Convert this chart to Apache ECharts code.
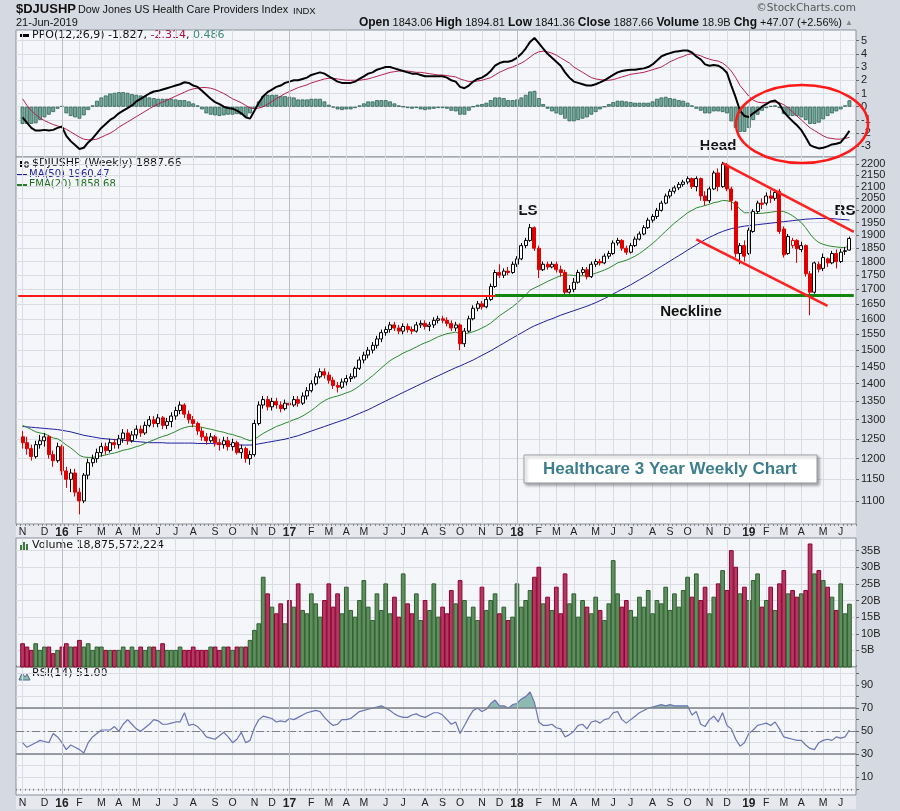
<!DOCTYPE html>
<html><head><meta charset="utf-8">
<script src="https://cdn.jsdelivr.net/npm/echarts@6/dist/echarts.min.js"></script>
<style>html,body{margin:0;padding:0;background:#d5d9e2;}#c{width:900px;height:811px;}</style>
</head><body><div id="c"></div>
<script>
// ---------- x axis: month labels and number of weekly bars per month ----------
const monthLabels = ['N','D','16','F','M','A','M','J','J','A','S','O','N','D','17','F','M','A','M','J','J','A','S','O','N','D','18','F','M','A','M','J','J','A','S','O','N','D','19','F','M','A','M','J'];
const monthWeeks  = [5,4,4,5,4,4,5,4,4,5,4,5,4,4,5,4,4,4,5,4,5,4,4,5,4,4,5,4,4,5,4,4,5,4,4,5,4,5,4,4,4,5,4,3];

// ---------- weekly OHLC ----------
const open = [1255,1240,1225,1205,1235,1245,1255,1210,1195,1230,1170,1150,1165,1120,1100,1160,1190,1200,1215,1230,1220,1240,1235,1250,1265,1245,1260,1275,1265,1285,1300,1290,1305,1285,1295,1310,1325,1340,1315,1300,1290,1270,1255,1245,1255,1240,1235,1245,1230,1240,1215,1225,1200,1210,1290,1340,1355,1335,1350,1340,1330,1345,1340,1355,1345,1365,1380,1400,1420,1435,1425,1410,1395,1390,1405,1415,1420,1445,1470,1485,1500,1515,1535,1555,1565,1580,1570,1560,1575,1565,1560,1580,1585,1575,1580,1595,1600,1595,1585,1570,1580,1520,1560,1600,1635,1650,1640,1665,1710,1760,1750,1765,1760,1790,1810,1860,1880,1930,1850,1770,1790,1780,1790,1770,1760,1690,1700,1725,1760,1770,1745,1790,1800,1795,1820,1830,1870,1880,1850,1835,1860,1885,1905,1930,1960,1975,2000,2030,2060,2080,2095,2110,2120,2135,2100,2135,2060,2040,2090,2160,2100,2195,2090,2035,1830,1860,1830,1915,1995,2030,2030,2060,2050,2080,1925,1830,1860,1880,1845,1860,1755,1690,1790,1775,1810,1795,1830,1800,1838,1843.06];
const high = [1270,1255,1235,1245,1260,1265,1260,1220,1240,1235,1180,1175,1175,1130,1165,1200,1210,1225,1240,1240,1250,1250,1260,1275,1275,1270,1285,1285,1295,1310,1310,1315,1310,1305,1320,1335,1350,1345,1325,1310,1295,1280,1265,1265,1260,1250,1255,1255,1250,1245,1235,1230,1220,1300,1350,1365,1365,1360,1360,1350,1355,1360,1365,1365,1375,1390,1410,1430,1445,1445,1435,1420,1405,1415,1425,1430,1450,1480,1495,1510,1525,1545,1565,1575,1590,1590,1580,1585,1585,1575,1590,1595,1595,1590,1605,1610,1610,1605,1595,1590,1585,1570,1610,1645,1660,1660,1675,1720,1770,1790,1775,1780,1800,1820,1870,1890,1945,1935,1860,1800,1800,1800,1800,1785,1770,1715,1740,1770,1780,1780,1800,1810,1810,1830,1840,1880,1890,1885,1860,1870,1895,1915,1940,1970,1985,2010,2040,2070,2090,2105,2120,2130,2145,2140,2145,2140,2080,2100,2170,2180,2210,2205,2100,2040,1870,1880,1930,2005,2040,2050,2075,2085,2090,2090,1935,1905,1890,1885,1875,1865,1765,1800,1800,1830,1815,1840,1845,1848,1855,1894.81];
const low = [1225,1210,1195,1200,1225,1230,1200,1180,1190,1160,1130,1120,1110,1070,1095,1150,1180,1190,1205,1210,1215,1225,1225,1240,1235,1240,1250,1255,1260,1280,1280,1280,1275,1275,1280,1300,1315,1305,1290,1280,1260,1245,1235,1240,1230,1220,1225,1220,1220,1210,1200,1190,1185,1205,1285,1330,1325,1325,1330,1320,1325,1330,1335,1335,1340,1355,1375,1395,1415,1415,1400,1385,1375,1385,1395,1405,1415,1440,1460,1475,1490,1505,1525,1545,1555,1560,1550,1550,1555,1550,1555,1570,1565,1560,1570,1585,1585,1575,1560,1560,1500,1510,1555,1595,1625,1630,1635,1660,1705,1740,1740,1750,1755,1780,1805,1850,1875,1840,1740,1765,1770,1775,1760,1745,1680,1685,1690,1720,1750,1735,1740,1780,1785,1790,1810,1825,1860,1840,1825,1830,1855,1880,1900,1925,1950,1965,1995,2025,2050,2070,2085,2100,2110,2090,2080,2040,2020,2030,2085,2080,2095,2080,2000,1815,1790,1800,1825,1910,1985,2005,2020,2030,2040,1905,1815,1825,1850,1795,1835,1745,1612,1685,1760,1765,1780,1790,1775,1795,1825,1841.36];
const close = [1240,1225,1205,1235,1245,1255,1210,1195,1230,1170,1150,1165,1120,1100,1160,1190,1200,1215,1230,1220,1240,1235,1250,1265,1245,1260,1275,1265,1285,1300,1290,1305,1285,1295,1310,1325,1340,1315,1300,1290,1270,1255,1245,1255,1240,1235,1245,1230,1240,1215,1225,1200,1210,1290,1340,1355,1335,1350,1340,1330,1345,1340,1355,1345,1365,1380,1400,1420,1435,1425,1410,1395,1390,1405,1415,1420,1445,1470,1485,1500,1515,1535,1555,1565,1580,1570,1560,1575,1565,1560,1580,1585,1575,1580,1595,1600,1595,1585,1570,1580,1520,1560,1600,1635,1650,1640,1665,1710,1760,1750,1765,1760,1790,1810,1860,1880,1930,1850,1770,1790,1780,1790,1770,1760,1690,1700,1725,1760,1770,1745,1790,1800,1795,1820,1830,1870,1880,1850,1835,1860,1885,1905,1930,1960,1975,2000,2030,2060,2080,2095,2110,2120,2135,2100,2135,2060,2040,2090,2160,2100,2200,2090,2040,1830,1860,1820,1920,1995,2030,2025,2060,2050,2075,1915,1825,1895,1880,1848,1860,1755,1690,1795,1772,1815,1795,1830,1800,1835,1840.59,1887.66];

// ---------- overlays ----------
const ma50 = [1282,1281,1280,1279,1278,1277,1276,1275,1274,1272,1270,1268,1265,1262,1259,1257,1255,1253,1251,1250,1249,1248,1247,1246,1245,1244,1243,1242,1241,1240,1240,1240,1240,1239,1239,1239,1239,1239,1239,1239,1238,1238,1238,1238,1237,1237,1236,1236,1235,1235,1234,1234,1234,1235,1237,1239,1241,1243,1245,1247,1249,1252,1255,1258,1262,1266,1270,1274,1278,1282,1286,1290,1294,1298,1302,1307,1312,1317,1322,1327,1333,1339,1345,1351,1357,1363,1369,1375,1381,1387,1393,1399,1405,1411,1417,1423,1429,1435,1441,1447,1452,1458,1464,1470,1477,1484,1491,1498,1506,1514,1522,1530,1538,1546,1554,1562,1570,1577,1583,1589,1595,1600,1606,1612,1617,1622,1627,1632,1637,1642,1648,1654,1661,1668,1676,1684,1692,1700,1708,1716,1725,1734,1743,1752,1762,1772,1782,1792,1802,1812,1822,1832,1843,1853,1863,1873,1883,1892,1900,1908,1915,1921,1926,1930,1933,1936,1938,1940,1942,1944,1946,1948,1950,1952,1954,1956,1958,1960,1962,1964,1965,1966,1967,1967,1967,1966,1965,1963,1962,1960.47];
const ema20 = [1285,1280,1274,1268,1265,1263,1258,1252,1250,1243,1234,1227,1218,1208,1204,1203,1203,1205,1207,1209,1212,1214,1217,1221,1223,1226,1230,1233,1238,1243,1247,1252,1256,1259,1264,1269,1275,1279,1282,1283,1282,1280,1277,1275,1272,1269,1267,1263,1261,1257,1254,1249,1245,1249,1256,1264,1270,1276,1282,1286,1291,1295,1300,1304,1310,1317,1325,1334,1344,1352,1358,1362,1365,1369,1374,1378,1385,1394,1403,1413,1423,1434,1446,1457,1468,1476,1483,1491,1497,1503,1510,1517,1523,1528,1535,1542,1547,1552,1554,1557,1550,1551,1554,1558,1563,1570,1577,1586,1598,1610,1620,1630,1640,1652,1666,1680,1697,1705,1712,1720,1728,1735,1742,1748,1750,1751,1749,1748,1748,1748,1752,1757,1763,1769,1776,1785,1795,1800,1805,1812,1820,1830,1842,1855,1868,1883,1900,1916,1932,1948,1962,1976,1990,2000,2010,2015,2020,2025,2032,2035,2041,2040,2035,2025,2005,1990,1990,1988,1987,1988,1990,1992,1995,1997,1995,1988,1978,1965,1950,1930,1905,1885,1872,1865,1860,1857,1855,1853,1853,1858.68];

// ---------- volume (billions) ----------
const volume = [7,6,5,7,5,6,6,4,5,6,7,6,6,8,6,7,5,6,6,5,5,5,5,6,5,6,5,6,5,6,6,5,7,5,5,5,6,5,5,6,5,5,5,6,6,5,6,6,5,6,6,6,8,11,13,27,22,18,16,19,13,20,18,25,17,16,22,19,15,20,25,18,22,16,24,17,15,20,26,18,14,22,17,25,16,21,15,28,19,16,22,14,20,17,25,15,18,16,23,19,26,20,15,18,14,24,17,20,22,16,18,14,15,25,18,20,23,27,30,19,21,17,24,16,28,19,22,15,20,18,16,21,17,14,19,32,22,18,20,17,15,21,18,23,16,20,19,24,17,22,18,23,27,21,28,20,24,16,21,25,29,23,35,30,22,24,20,26,28,18,20,24,17,25,29,22,23,21,22,23,37,28,29,26,24,21,17,25,16,18.88];

// ---------- PPO(12,26,9) ----------
const ppo = [-0.8,-1.2,-1.6,-1.8,-1.8,-1.75,-1.8,-1.75,-1.6,-1.5,-2.2,-2.6,-2.9,-3.2,-3.1,-2.7,-2.4,-2.0,-1.6,-1.3,-1.0,-0.8,-0.5,-0.3,-0.1,0.1,0.4,0.6,0.8,1.0,1.15,1.2,1.3,1.4,1.5,1.6,1.7,1.85,1.8,1.6,1.5,1.2,0.9,0.6,0.35,0.2,0.0,-0.1,-0.15,-0.3,-0.5,-0.8,-0.9,-0.3,0.3,0.8,1.1,1.3,1.5,1.6,1.8,1.9,2.0,2.0,2.1,2.2,2.4,2.5,2.6,2.5,2.3,2.1,1.9,1.8,1.8,1.8,1.9,2.1,2.3,2.5,2.6,2.8,2.9,3.0,3.0,2.9,2.8,2.7,2.6,2.5,2.5,2.4,2.3,2.3,2.3,2.3,2.3,2.2,2.0,1.9,1.5,1.4,1.6,1.9,2.1,2.2,2.4,2.7,3.1,3.3,3.4,3.4,3.5,3.7,4.0,4.4,4.9,5.2,4.8,4.4,4.0,3.7,3.4,3.1,2.6,2.2,1.9,1.8,1.7,1.6,1.6,1.7,1.84,2.0,2.2,2.4,2.6,2.7,2.75,2.8,2.8,2.85,2.9,3.0,3.2,3.5,3.8,3.95,4.05,4.15,4.2,4.25,4.25,4.1,3.8,3.58,3.2,3.1,3.15,3.1,2.9,2.57,1.6,0.7,-0.3,-0.7,-0.77,-0.5,-0.27,0.0,0.2,0.4,0.47,0.2,-0.4,-0.77,-1.1,-1.4,-1.77,-2.3,-2.9,-3.05,-3.15,-3.1,-3.0,-2.85,-2.8,-2.7,-2.3,-1.827];
const ppoSignal = [0.6,0.1,-0.3,-0.6,-0.85,-1.05,-1.2,-1.35,-1.45,-1.55,-1.7,-1.9,-2.1,-2.3,-2.45,-2.5,-2.5,-2.45,-2.3,-2.15,-2.0,-1.8,-1.55,-1.35,-1.15,-0.95,-0.75,-0.55,-0.35,-0.15,0.05,0.2,0.35,0.5,0.65,0.8,0.95,1.1,1.25,1.35,1.4,1.45,1.45,1.4,1.3,1.15,1.0,0.8,0.6,0.45,0.3,0.1,-0.1,-0.15,-0.1,0.0,0.2,0.4,0.6,0.8,1.0,1.15,1.3,1.45,1.55,1.65,1.8,1.9,2.0,2.1,2.15,2.15,2.1,2.05,2.0,2.0,2.0,2.0,2.05,2.1,2.2,2.3,2.4,2.5,2.6,2.65,2.7,2.7,2.7,2.65,2.6,2.6,2.55,2.5,2.45,2.4,2.4,2.35,2.3,2.25,2.1,2.0,1.9,1.9,1.95,2.0,2.1,2.2,2.4,2.6,2.75,2.9,3.0,3.15,3.3,3.5,3.75,4.0,4.15,4.2,4.15,4.05,3.9,3.7,3.5,3.3,3.0,2.8,2.6,2.4,2.2,2.1,2.05,2.0,2.0,2.05,2.15,2.25,2.35,2.45,2.5,2.55,2.6,2.7,2.8,2.9,3.0,3.2,3.4,3.55,3.7,3.8,3.95,4.0,3.95,3.85,3.7,3.6,3.5,3.45,3.3,3.05,2.7,2.2,1.6,1.2,0.8,0.5,0.35,0.3,0.3,0.35,0.35,0.3,0.15,-0.1,-0.4,-0.7,-1.0,-1.3,-1.6,-1.8,-2.0,-2.2,-2.35,-2.4,-2.45,-2.45,-2.4,-2.314];
const ppoHist = [-1.3,-1.3,-1.3,-1.25,-1.0,-0.8,-0.6,-0.4,-0.15,0.05,-0.5,-0.7,-0.8,-0.9,-0.65,-0.25,0.1,0.45,0.7,0.85,1.0,1.05,1.1,1.1,1.05,0.95,0.9,0.85,0.8,0.7,0.65,0.6,0.6,0.6,0.6,0.55,0.5,0.5,0.4,0.25,0.1,-0.2,-0.5,-0.6,-0.65,-0.7,-0.65,-0.6,-0.6,-0.55,-0.6,-0.75,-0.5,-0.15,0.4,0.8,0.9,0.9,0.9,0.8,0.8,0.75,0.7,0.55,0.55,0.55,0.6,0.6,0.6,0.4,0.15,-0.05,-0.2,-0.25,-0.2,-0.2,-0.1,0.1,0.25,0.4,0.4,0.5,0.5,0.5,0.4,0.25,0.1,0.0,-0.1,-0.15,-0.1,-0.2,-0.25,-0.2,-0.15,-0.1,-0.1,-0.15,-0.3,-0.35,-0.6,-0.6,-0.3,0.0,0.15,0.2,0.3,0.5,0.7,0.7,0.65,0.5,0.5,0.55,0.7,0.9,1.15,1.2,0.65,0.2,-0.15,-0.35,-0.5,-0.6,-0.9,-1.1,-1.1,-1.0,-0.9,-0.8,-0.6,-0.4,-0.2,0.0,0.2,0.35,0.45,0.45,0.4,0.35,0.3,0.3,0.3,0.3,0.4,0.6,0.7,0.75,0.65,0.6,0.5,0.45,0.3,0.1,-0.15,-0.3,-0.5,-0.5,-0.35,-0.35,-0.4,-0.5,-1.1,-1.6,-1.9,-1.9,-1.6,-1.0,-0.6,-0.3,-0.1,0.05,0.1,-0.1,-0.55,-0.7,-0.7,-0.7,-0.8,-1.0,-1.3,-1.3,-1.2,-0.95,-0.7,-0.5,-0.35,-0.2,0.1,0.486];

// ---------- RSI(14) ----------
const rsi = [40,36,38,40,42,41,40,48,45,40,34,38,36,34,31,40,45,48,51,51,51,54,50,56,60,56,52,50,53,56,60,59,56,56,57,58,58,66,55,56,54,50,45,44,43,46,49,45,40,43,49,40,42,53,60,63,62,61,58,59,58,61,60,62,64,66,67,68,67,62,58,55,56,60,60,61,64,67,68,69,70,71,72,70,68,65,63,62,62,64,65,63,62,64,66,66,64,60,56,58,48,55,62,68,70,67,69,74,77,72,72,70,73,74,78,80,84,75,58,55,55,56,53,52,45,47,50,55,56,52,58,59,57,60,61,66,67,60,57,60,63,66,68,70,71,72,73,72,73,72,72,72,72,64,67,56,54,60,63,58,66,55,52,43,37,40,48,51,55,56,57,55,58,52,45,44,43,42,42,38,35,34,40,42,43,42,45,44,45,51];

// ---------- axis tick labels ----------
const priceTicks = [1100,1150,1200,1250,1300,1350,1400,1450,1500,1550,1600,1650,1700,1750,1800,1850,1900,1950,2000,2050,2100,2150,2200];
const ppoTicks = [-3,-2,-1,0,1,2,3,4,5];
const volTicks = [5,10,15,20,25,30,35];
const rsiTicks = [10,30,50,70,90];
const rsiGrid = [0,10,20,30,40,50,60,70,80,90,100];

// ---------- build ----------
const N = close.length;
const cats = ['p0'];
const catLabel = {};
let wi = 0;
monthLabels.forEach((m, k) => {
  for (let j = 0; j < monthWeeks[k]; j++) {
    const id = 'w' + wi;
    cats.push(id);
    if (j === 0) catLabel[id] = m;
    wi++;
  }
});
cats.push('p1');
const pad = a => ['-'].concat(a, ['-']);
const yearCats = cats.filter(c => /\d/.test(catLabel[c] || ''));

const candleData = ['-'];
const volData = ['-'];
for (let i = 0; i < N; i++) {
  const up = i === 0 ? close[i] >= open[i] : close[i] >= close[i - 1];
  const col = up ? '#000000' : '#e00000';
  const filled = close[i] < open[i];
  const fill = filled ? col : '#ffffff';
  candleData.push({ value: [open[i], close[i], low[i], high[i]],
    itemStyle: { color: fill, color0: fill, borderColor: col, borderColor0: col } });
  volData.push({ value: volume[i], itemStyle: up
    ? { color: '#5f8e5f', borderColor: '#2f5f2f' }
    : { color: '#b23a62', borderColor: '#900030' } });
}
candleData.push('-'); volData.push('-');

const isMonth = (idx, v) => catLabel[v] !== undefined;
const isYear = v => /\d/.test(catLabel[v] || '');
const L = 16, R = 44;
const grids = [
  { left: L, right: R, top: 30, height: 127 },
  { left: L, right: R, top: 157, height: 367 },
  { left: L, right: R, top: 538, height: 129 },
  { left: L, right: R, top: 667, height: 128 }
].map(g => Object.assign(g, { show: true, backgroundColor: '#f5f6fa', borderColor: '#8a8f9a', borderWidth: 1 }));

function xAx(gi, showLabel, pos) {
  return {
    type: 'category', gridIndex: gi, data: cats, boundaryGap: true, position: pos || 'bottom',
    axisLine: { show: false },
    axisTick: { show: showLabel || pos === 'top', interval: 0, length: 2, inside: false, lineStyle: { color: '#888' } },
    axisLabel: { show: !!showLabel, interval: isMonth, margin: 3, fontSize: 10.5, color: '#222', fontFamily: 'Liberation Sans',
      formatter: v => isYear(v) ? '{y|' + catLabel[v] + '}' : (catLabel[v] || ''),
      rich: { y: { fontWeight: 'bold', fontSize: 12, fontFamily: 'Liberation Sans', color: '#222' } } },
    splitLine: { show: true, interval: isMonth, alignWithLabel: true, lineStyle: { color: '#d9dce3', width: 1 } }
  };
}
const numFmt = v => String(v);
function yAx(gi, o, ticks, labels, fmt) {
  return Object.assign({
    gridIndex: gi, position: 'right',
    axisLine: { show: false },
    axisTick: { show: true, length: 3, customValues: ticks, lineStyle: { color: '#666' } },
    axisLabel: { fontSize: 11, color: '#222', margin: 5, fontFamily: 'Liberation Sans', customValues: labels, formatter: fmt || numFmt },
    splitLine: { show: true, lineStyle: { color: '#d9dce3' } }
  }, o);
}
const yearLines = gridLineColor => ({ silent: true, symbol: 'none', label: { show: false },
  lineStyle: { color: gridLineColor, width: 1, type: 'solid' }, data: yearCats.map(c => ({ xAxis: c })) });

const annoLine = (a, b, color, width) => [{ coord: a, lineStyle: { color: color, width: width, type: 'solid' } }, { coord: b }];
const NECK = 1678;

const option = {
  animation: false,
  backgroundColor: '#d5d9e2',
  grid: grids,
  xAxis: [xAx(0, false), xAx(1, true), xAx(2, false, 'top'), xAx(3, true)],
  yAxis: [
    yAx(0, { type: 'value', min: -3.8, max: 5.8 }, ppoTicks, ppoTicks),
    yAx(1, { type: 'log', logBase: 10, min: 1049, max: 2232 }, priceTicks, priceTicks),
    yAx(2, { type: 'value', min: 0, max: 38.8 }, volTicks, volTicks, v => v + 'B'),
    yAx(3, { type: 'value', min: -5.4, max: 105.7 }, rsiGrid, rsiTicks)
  ],
  series: [
    { type: 'bar', name: 'hist', xAxisIndex: 0, yAxisIndex: 0, data: pad(ppoHist), barCategoryGap: '12%',
      itemStyle: { color: '#73a899', borderColor: '#2e6256', borderWidth: 0.8 }, markLine: yearLines('#b9bdc6') },
    { type: 'line', name: 'signal', xAxisIndex: 0, yAxisIndex: 0, data: pad(ppoSignal), showSymbol: false,
      lineStyle: { color: '#b5204f', width: 1 } },
    { type: 'line', name: 'ppo', xAxisIndex: 0, yAxisIndex: 0, data: pad(ppo), showSymbol: false,
      lineStyle: { color: '#000', width: 2 } },
    { type: 'line', name: 'ma50', xAxisIndex: 1, yAxisIndex: 1, data: pad(ma50), showSymbol: false, z: 3,
      lineStyle: { color: '#1e1ea0', width: 1 }, markLine: yearLines('#b9bdc6') },
    { type: 'line', name: 'ema20', xAxisIndex: 1, yAxisIndex: 1, data: pad(ema20), showSymbol: false, z: 3,
      lineStyle: { color: '#2c8a2c', width: 1 } },
    { type: 'candlestick', name: 'price', xAxisIndex: 1, yAxisIndex: 1, data: candleData, barWidth: 3.4, z: 4,
      markLine: { silent: true, symbol: 'none', label: { show: false }, z: 6,
        data: [
          annoLine([0, NECK], [109, NECK], '#ff1a1a', 2),
          annoLine([109, NECK], [191, NECK], '#12860f', 3),
          annoLine([161.35, 2204], [191.2, 1913], '#ff2020', 2.5),
          annoLine([155.3, 1884], [185.3, 1643], '#ff2020', 2.5)
        ] } },
    { type: 'bar', name: 'volume', xAxisIndex: 2, yAxisIndex: 2, data: volData, barCategoryGap: '15%', markLine: yearLines('#b9bdc6') },
    { type: 'line', name: 'rsiArea', xAxisIndex: 3, yAxisIndex: 3, data: pad(rsi), showSymbol: false,
      lineStyle: { width: 0, color: 'rgba(0,0,0,0)' }, areaStyle: { origin: 'start', opacity: 1, color: '#8fbab2' }, z: 1 },
    { type: 'line', name: 'rsi', xAxisIndex: 3, yAxisIndex: 3, data: pad(rsi), showSymbol: false, z: 3,
      lineStyle: { color: '#6a74b5', width: 1.2 },
      markLine: { silent: true, symbol: 'none', label: { show: false },
        data: [
          { yAxis: 70, lineStyle: { color: '#7d8088', width: 1.5, type: 'solid' } },
          { yAxis: 30, lineStyle: { color: '#7d8088', width: 1.5, type: 'solid' } },
          { yAxis: 50, lineStyle: { color: '#7d8088', width: 1, type: [8, 3, 2, 3] } }
        ].concat(yearCats.map(c => ({ xAxis: c, lineStyle: { color: '#b9bdc6', width: 1, type: 'solid' } }))) } }
  ],
  graphic: [
    { type: 'rect', shape: { x: 16, y: 524, width: 840, height: 14 }, style: { fill: '#e6e8ee' }, z: -1 },
    { type: 'rect', shape: { x: 16, y: 795, width: 840, height: 14 }, style: { fill: '#e6e8ee' }, z: -1 },
    { type: 'text', x: 16, y: 3, style: { text: '$DJUSHP', font: 'bold 13px "Liberation Sans"', fill: '#111' } },
    { type: 'text', x: 78, y: 5, style: { text: 'Dow Jones US Health Care Providers Index', font: '10.8px "Liberation Sans"', fill: '#111' } },
    { type: 'text', x: 293, y: 6, style: { text: 'INDX', font: '9.5px "Liberation Sans"', fill: '#111' } },
    { type: 'text', x: 16, y: 17, style: { text: '21-Jun-2019', font: '11px "Liberation Sans"', fill: '#111' } },
    { type: 'text', x: 856, y: 3, style: { text: '\u00a9StockCharts.com', align: 'right', font: '10.5px "DejaVu Sans"', fill: '#555' } },
    { type: 'text', x: 853, y: 17, style: { align: 'right',
        text: '{b|Open} 1843.06 {b|High} 1894.81 {b|Low} 1841.36 {b|Close} 1887.66 {b|Volume} 18.9B {b|Chg} +47.07 (+2.56%) {t|\u25b2}',
        font: '11px "Liberation Sans"', fill: '#111',
        rich: { b: { fontWeight: 'bold', fontSize: 12, fontFamily: 'Liberation Sans', fill: '#111' }, t: { fontSize: 8, fill: '#888' } } } },
    // panel legends
    { type: 'rect', shape: { x: 20, y: 34, width: 9, height: 3 }, style: { fill: '#000' } },
    { type: 'text', x: 32, y: 30, style: { text: 'PPO(12,26,9) -1.827, {r|-2.314}, {g|0.486}', font: '11px "DejaVu Sans"', fill: '#111',
        rich: { r: { fill: '#b0103f', fontSize: 11, fontFamily: 'DejaVu Sans' }, g: { fill: '#3b8a7a', fontSize: 11, fontFamily: 'DejaVu Sans' } } } },
    { type: 'rect', shape: { x: 20, y: 161, width: 3, height: 6 }, style: { fill: '#000' } },
    { type: 'rect', shape: { x: 25, y: 162, width: 3, height: 5 }, style: { fill: '#fff', stroke: '#000', lineWidth: 1 } },
    { type: 'text', x: 32, y: 158, style: { text: '$DJUSHP (Weekly) 1887.66', font: '11px "DejaVu Sans"', fill: '#111' } },
    { type: 'rect', shape: { x: 17, y: 174, width: 10, height: 2 }, style: { fill: '#1e1ea0' } },
    { type: 'text', x: 29, y: 169, style: { text: 'MA(50) 1960.47', font: '10px "DejaVu Sans"', fill: '#1e1ea0' } },
    { type: 'rect', shape: { x: 17, y: 184, width: 10, height: 2 }, style: { fill: '#2a7a2a' } },
    { type: 'text', x: 29, y: 179, style: { text: 'EMA(20) 1858.68', font: '10px "DejaVu Sans"', fill: '#1f6f1f' } },
    { type: 'rect', shape: { x: 20, y: 545, width: 2, height: 6 }, style: { fill: '#3d7a3d' } },
    { type: 'rect', shape: { x: 23, y: 542, width: 2, height: 9 }, style: { fill: '#3d7a3d' } },
    { type: 'rect', shape: { x: 26, y: 544, width: 2, height: 7 }, style: { fill: '#3d7a3d' } },
    { type: 'text', x: 32, y: 540, style: { text: 'Volume 18,875,572,224', font: '11px "DejaVu Sans"', fill: '#111' } },
    { type: 'polygon', shape: { points: [[19, 680], [22, 673], [25, 677], [27, 674], [30, 680]] }, style: { fill: '#8fbab2', stroke: '#4a6f8a', lineWidth: 1 } },
    { type: 'text', x: 32, y: 668, style: { text: 'RSI(14) 51.00', font: '11px "DejaVu Sans"', fill: '#111' } },
    // annotations
    { type: 'text', x: 718, y: 146, style: { text: 'Head', align: 'center', verticalAlign: 'middle', font: 'bold 15px "Liberation Sans"', fill: '#111' } },
    { type: 'text', x: 528, y: 211, style: { text: 'LS', align: 'center', verticalAlign: 'middle', font: 'bold 15px "Liberation Sans"', fill: '#111' } },
    { type: 'text', x: 845, y: 211, style: { text: 'RS', align: 'center', verticalAlign: 'middle', font: 'bold 15px "Liberation Sans"', fill: '#111' } },
    { type: 'text', x: 691, y: 312, style: { text: 'Neckline', align: 'center', verticalAlign: 'middle', font: 'bold 15px "Liberation Sans"', fill: '#111' } },
    { type: 'ellipse', shape: { cx: 802, cy: 124, rx: 66, ry: 39 }, style: { fill: 'none', stroke: '#ff1a1a', lineWidth: 2.5 }, z: 100 },
    { type: 'rect', shape: { x: 524, y: 455, width: 293, height: 28 }, style: { fill: '#ffffff', stroke: '#9a9da5', lineWidth: 1,
        shadowBlur: 3, shadowOffsetX: 2, shadowOffsetY: 2, shadowColor: 'rgba(0,0,0,0.35)' }, z: 90 },
    { type: 'text', x: 670, y: 469, style: { text: 'Healthcare 3 Year Weekly Chart', align: 'center', verticalAlign: 'middle',
        font: 'bold 17px "Liberation Sans"', fill: '#3e7e8c' }, z: 91 }
  ]
};
const chart = echarts.init(document.getElementById('c'), null, { renderer: 'canvas' });
chart.setOption(option);
// RSI > 70 shading: gradient that is opaque only above the 70 line
const y70 = chart.convertToPixel({ yAxisIndex: 3 }, 70);
chart.setOption({ series: [{}, {}, {}, {}, {}, {}, {}, { areaStyle: { origin: 'start', opacity: 1, color: {
  type: 'linear', global: true, x: 0, y: y70 - 0.5, x2: 0, y2: y70 + 0.5,
  colorStops: [{ offset: 0, color: '#8fbab2' }, { offset: 1, color: 'rgba(143,186,178,0)' }] } } }] });
</script></body></html>
